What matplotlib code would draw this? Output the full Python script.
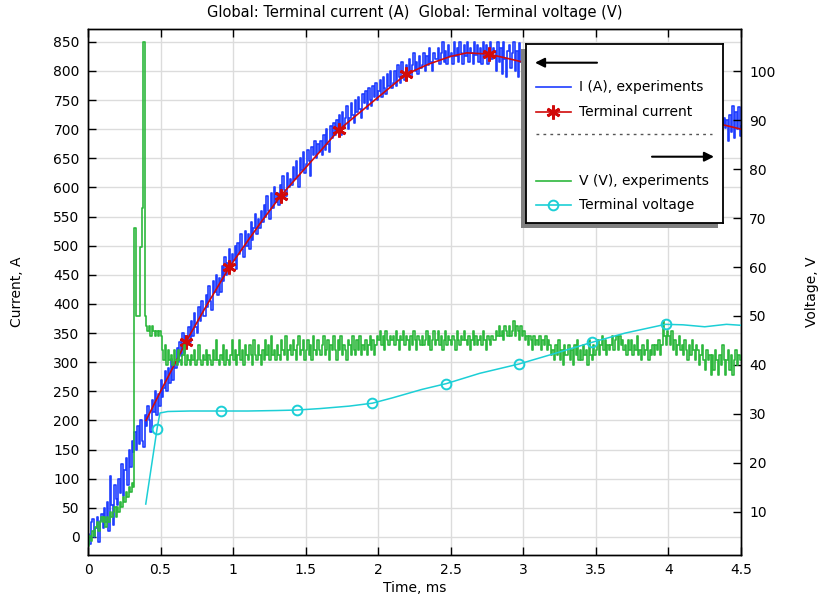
import numpy as np
import matplotlib
matplotlib.use('Agg')
import matplotlib.pyplot as plt
from matplotlib.patches import Rectangle

# ---------------- data ----------------
t_step = 0.01  # ms, sampling of the experimental records

current_exp = [
    5, -12, 25, 30, 0, 15, 35, -8, 28, 40,
    15, 50, 25, 60, 10, 105, 55, 20, 90, 65,
    55, 100, 75, 125, 70, 115, 135, 90, 150, 120,
    165, 145, 180, 150, 190, 160, 200, 165, 155, 210,
    190, 225, 200, 180, 235, 215, 250, 210, 245, 225,
    270, 240, 255, 285, 250, 290, 265, 305, 270, 300,
    290, 325, 300, 335, 310, 350, 315, 345, 330, 360,
    335, 370, 345, 385, 360, 350, 395, 370, 405, 380,
    380, 415, 395, 430, 405, 390, 440, 420, 450, 415,
    445, 420, 465, 440, 480, 450, 470, 495, 460, 485,
    475, 500, 460, 505, 485, 520, 495, 480, 525, 500,
    520, 495, 540, 510, 530, 555, 520, 545, 530, 560,
    540, 570, 550, 585, 560, 545, 590, 565, 600, 575,
    590, 570, 605, 580, 620, 595, 585, 625, 600, 615,
    605, 635, 615, 645, 620, 600, 650, 630, 660, 625,
    640, 665, 645, 620, 670, 655, 680, 650, 675, 660,
    680, 655, 690, 665, 700, 675, 660, 705, 685, 710,
    690, 715, 700, 725, 690, 730, 705, 720, 740, 700,
    720, 745, 725, 710, 750, 730, 755, 735, 720, 760,
    745, 765, 735, 770, 750, 740, 775, 755, 780, 750,
    765, 785, 755, 790, 770, 760, 795, 775, 800, 770,
    780, 800, 775, 810, 790, 780, 815, 795, 785, 810,
    800, 820, 790, 810, 830, 800, 815, 795, 825, 805,
    810, 830, 800, 825, 810, 840, 815, 800, 830, 820,
    820, 840, 812, 830, 850, 815, 835, 812, 845, 825,
    830, 812, 850, 825, 840, 815, 850, 830, 812, 845,
    825, 850, 815, 840, 830, 812, 850, 828, 845, 815,
    840, 812, 850, 825, 845, 812, 835, 850, 820, 840,
    835, 800, 850, 815, 840, 795, 850, 820, 790, 835,
    845, 805, 830, 850, 800, 835, 790, 848, 815, 830,
    825, 800, 835, 805, 828, 798, 830, 810, 822, 800,
    818, 795, 828, 800, 820, 792, 825, 805, 815, 795,
    812, 790, 820, 795, 815, 788, 818, 800, 808, 790,
    805, 782, 812, 790, 808, 780, 815, 795, 800, 785,
    798, 775, 805, 782, 800, 772, 808, 785, 795, 778,
    790, 768, 798, 775, 792, 765, 800, 778, 788, 770,
    782, 760, 790, 768, 785, 758, 792, 770, 780, 762,
    775, 752, 782, 760, 778, 750, 785, 762, 772, 755,
    768, 745, 775, 752, 770, 742, 778, 755, 765, 748,
    760, 738, 768, 745, 762, 735, 770, 748, 758, 740,
    752, 730, 760, 738, 755, 725, 762, 740, 750, 732,
    742, 720, 750, 728, 745, 715, 752, 730, 740, 722,
    732, 710, 740, 718, 735, 705, 742, 720, 730, 712,
    722, 700, 730, 708, 725, 695, 732, 710, 720, 702,
    715, 680, 725, 695, 740, 685, 730, 700, 738, 688,
    705,
]

voltage_exp = [
    3, 5, 4, 6, 5, 7, 8, 6, 8, 9,
    8, 9, 7, 9, 8, 10, 9, 10, 11, 9,
    11, 10, 12, 11, 13, 12, 14, 13, 15, 14,
    16, 15, 68, 50, 50, 50, 64, 72, 106, 50,
    48, 47, 48, 46, 48, 47, 46, 47, 46, 47,
    46, 43, 41, 44, 40, 43, 41, 42, 40, 43,
    41, 40, 43, 41, 40, 42, 44, 40, 42, 41,
    40, 42, 41, 43, 40, 41, 44, 41, 40, 42,
    41, 43, 40, 42, 41, 40, 43, 41, 45, 41,
    40, 42, 41, 44, 40, 43, 41, 40, 42, 45,
    41, 43, 40, 42, 45, 41, 43, 40, 44, 42,
    41, 44, 42, 40, 45, 42, 41, 44, 42, 40,
    43, 41, 45, 42, 44, 41, 46, 42, 43, 41,
    44, 42, 41, 45, 43, 42, 46, 41, 43, 44,
    42, 45, 43, 41, 44, 46, 42, 43, 45, 41,
    43, 45, 42, 44, 41, 46, 43, 42, 45, 43,
    42, 44, 46, 42, 43, 45, 41, 44, 43, 46,
    43, 41, 45, 43, 46, 42, 44, 43, 41, 45,
    44, 42, 46, 43, 42, 45, 43, 46, 42, 44,
    43, 45, 42, 44, 46, 43, 45, 42, 44, 46,
    45, 47, 44, 46, 43, 47, 45, 44, 46, 45,
    46, 44, 47, 45, 43, 46, 45, 47, 44, 46,
    45, 43, 46, 44, 47, 45, 43, 46, 45, 44,
    46, 44, 45, 47, 44, 46, 43, 45, 47, 44,
    45, 47, 44, 46, 43, 45, 47, 44, 46, 45,
    44, 46, 45, 43, 47, 45, 44, 46, 45, 47,
    45, 44, 46, 43, 45, 47, 44, 46, 44, 45,
    46, 44, 47, 45, 43, 46, 45, 44, 46, 45,
    45, 47, 46, 48, 46, 47, 45, 48, 47, 46,
    48, 46, 47, 49, 46, 48, 47, 45, 48, 46,
    47, 45, 46, 44, 46, 45, 43, 46, 44, 45,
    44, 46, 43, 45, 44, 46, 43, 45, 44, 42,
    43, 41, 44, 42, 45, 41, 43, 40, 44, 42,
    42, 44, 41, 43, 40, 44, 42, 45, 41, 43,
    41, 44, 42, 43, 40, 45, 42, 41, 44, 42,
    43, 45, 42, 44, 46, 43, 45, 42, 44, 43,
    44, 46, 43, 45, 46, 43, 46, 44, 45, 43,
    44, 42, 45, 43, 45, 42, 44, 43, 46, 42,
    43, 41, 44, 42, 43, 45, 41, 43, 42, 44,
    42, 44, 43, 45, 42, 44, 49, 46, 44, 47,
    46, 44, 47, 43, 45, 42, 44, 46, 43, 44,
    42, 45, 43, 41, 44, 42, 45, 43, 41, 44,
    43, 40, 42, 44, 41, 39, 43, 41, 42, 38,
    42, 39, 43, 41, 38, 42, 40, 44, 41, 38,
    41, 43, 39, 42, 38, 41, 43, 40, 42, 41,
    41,
]

sim_time_I = [0.40, 0.50, 0.60, 0.673, 0.80, 0.974, 1.10, 1.20, 1.33, 1.45,
              1.60, 1.73, 1.85, 2.00, 2.19, 2.35, 2.50, 2.61, 2.76, 2.90,
              3.00, 3.40, 3.80, 4.15, 4.37, 4.50]
sim_current = [200, 250, 298, 334, 390, 463, 508, 543, 586, 620,
               662, 699, 724, 755, 794, 812, 825, 831, 829, 821,
               815, 790, 758, 725, 708, 700]
sim_I_marker_times = [0.673, 0.974, 1.33, 1.73, 2.19, 2.76, 3.40, 4.15]

sim_time_V = [0.398, 0.476, 0.496, 0.55, 0.70, 0.914, 1.10, 1.30, 1.44, 1.60,
              1.80, 1.96, 2.10, 2.30, 2.47, 2.70, 2.97, 3.20, 3.47, 3.70,
              3.98, 4.10, 4.25, 4.40, 4.50]
sim_voltage = [11.6, 27.0, 30.2, 30.5, 30.6, 30.6, 30.6, 30.7, 30.8, 31.1,
               31.6, 32.2, 33.3, 35.0, 36.2, 38.3, 40.2, 42.2, 44.6, 46.5,
               48.3, 48.2, 47.8, 48.3, 48.1]
sim_V_marker_times = [0.476, 0.914, 1.44, 1.96, 2.47, 2.97, 3.47, 3.98]

x_ticks = [0, 0.5, 1, 1.5, 2, 2.5, 3, 3.5, 4, 4.5]
x_tick_labels = ['0', '0.5', '1', '1.5', '2', '2.5', '3', '3.5', '4', '4.5']
current_ticks = list(range(0, 851, 50))
voltage_ticks = list(range(10, 101, 10))

title_text = 'Global: Terminal current (A)  Global: Terminal voltage (V)'
x_label = 'Time, ms'
y_left_label = 'Current, A'
y_right_label = 'Voltage, V'
legend_labels = ['I (A), experiments', 'Terminal current',
                 'V (V), experiments', 'Terminal voltage']

# ---------------- style ----------------
C_BLUE = '#1f3dff'
C_RED = '#d10a0a'
C_GREEN = '#2db83d'
C_CYAN = '#1ccfd6'
GRID = '#dcdcdc'
FS = 10

plt.rcParams['font.family'] = ['DejaVu Sans']

W, H = 821, 605
fig = plt.figure(figsize=(W / 100, H / 100), dpi=100)
L, R, T, B = 88, 741, 29, 555
ax = fig.add_axes([L / W, 1 - B / H, (R - L) / W, (B - T) / H])
ax2 = ax.twinx()

t_exp = np.arange(len(current_exp)) * t_step

ax.plot(t_exp, current_exp, color=C_BLUE, lw=1.2, drawstyle='steps-post', zorder=2)
idx_I = [sim_time_I.index(v) for v in sim_I_marker_times]
ax.plot(sim_time_I, sim_current, color=C_RED, lw=1.2, marker=(6, 2, 0),
        markersize=10, markeredgewidth=2.0, markevery=idx_I, zorder=3)

ax2.plot(t_exp, voltage_exp, color=C_GREEN, lw=1.2, drawstyle='steps-post', zorder=2)
idx_V = [sim_time_V.index(v) for v in sim_V_marker_times]
ax2.plot(sim_time_V, sim_voltage, color=C_CYAN, lw=1.1, marker='o', markersize=7,
         markerfacecolor='none', markeredgewidth=1.4, markevery=idx_V, zorder=3)

ax.set_xlim(0, 4.5)
ax.set_ylim(-31, 872)
ax2.set_ylim(1.2, 108.6)

ax.set_xticks(x_ticks)
ax.set_xticklabels(x_tick_labels)
ax.set_yticks(current_ticks)
ax2.set_yticks(voltage_ticks)

ax.grid(True, color=GRID, lw=1.0)
ax.set_axisbelow(True)

ax.tick_params(axis='both', direction='in', length=6, width=1, labelsize=FS,
               top=True, colors='black')
ax.tick_params(axis='x', pad=6)
ax.tick_params(axis='y', pad=6)
ax2.tick_params(axis='y', direction='in', length=6, width=1, labelsize=FS, pad=6)

for sp in list(ax.spines.values()) + list(ax2.spines.values()):
    sp.set_color('black')
    sp.set_linewidth(1.0)

fig.text(414.5 / W, 1 - 588 / H, x_label, fontsize=FS, ha='center', va='center')
fig.text(17 / W, 1 - 292 / H, y_left_label, fontsize=FS, ha='center', va='center',
         rotation=90)
fig.text(812 / W, 1 - 292 / H, y_right_label, fontsize=FS, ha='center', va='center',
         rotation=90)
fig.text(414.5 / W, 1 - 12.5 / H, title_text, fontsize=10.5, ha='center', va='center')

# ---------------- legend (drawn by hand, COMSOL style) ----------------
bx0, bx1, by0, by1 = 525.7, 722.7, 44.3, 222.7
sh = 5
shadow = Rectangle(((bx0 - sh) / W, 1 - (by1 + sh) / H), (bx1 - bx0) / W, (by1 - by0) / H,
                   transform=fig.transFigure, facecolor='#808080', edgecolor='none',
                   zorder=8)
fig.patches.append(shadow)

lax = fig.add_axes([bx0 / W, 1 - by1 / H, (bx1 - bx0) / W, (by1 - by0) / H], zorder=10)
lax.set_xlim(0, bx1 - bx0)
lax.set_ylim(by1 - by0, 0)
lax.set_xticks([])
lax.set_yticks([])
lax.set_facecolor('white')
for sp in lax.spines.values():
    sp.set_color('black')
    sp.set_linewidth(1.3)

def px(x):
    return x - bx0

def py(y):
    return y - by0

lax.annotate('', xy=(px(535), py(62.7)), xytext=(px(597), py(62.7)),
             arrowprops=dict(arrowstyle='-|>', color='black', lw=1.5,
                             mutation_scale=14, shrinkA=0, shrinkB=0))
lax.annotate('', xy=(px(714), py(156.7)), xytext=(px(652), py(156.7)),
             arrowprops=dict(arrowstyle='-|>', color='black', lw=1.5,
                             mutation_scale=14, shrinkA=0, shrinkB=0))
lax.plot([px(536), px(712)], [py(134), py(134)], color='#555555', lw=1.0,
         linestyle=(0, (2, 3)))

rows = [
    (86.7, C_BLUE, None, legend_labels[0]),
    (112.0, C_RED, 'star', legend_labels[1]),
    (181.0, C_GREEN, None, legend_labels[2]),
    (205.0, C_CYAN, 'circle', legend_labels[3]),
]
for y, col, mk, lab in rows:
    lax.plot([px(536), px(571)], [py(y), py(y)], color=col, lw=1.2)
    if mk == 'star':
        lax.plot([px(553)], [py(y)], color=col, marker=(6, 2, 0), markersize=10,
                 markeredgewidth=2.0)
    elif mk == 'circle':
        lax.plot([px(553)], [py(y)], color=col, marker='o', markersize=7,
                 markerfacecolor='none', markeredgewidth=1.4)
    lax.text(px(579), py(y), lab, fontsize=FS, va='center', ha='left', color='black')

fig.savefig('out.png', dpi=100)
